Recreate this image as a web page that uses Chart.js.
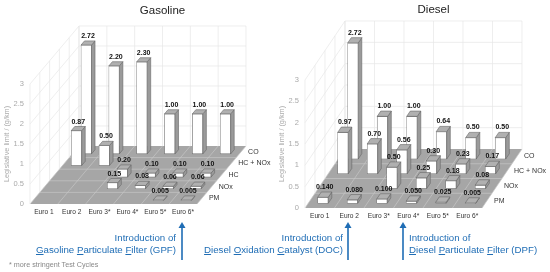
<!DOCTYPE html>
<html>
<head>
<meta charset="utf-8">
<title>Legislative limits</title>
<script src="https://cdn.jsdelivr.net/npm/chart.js@4"></script>
<style>
  body { margin: 0; background: #fff; width: 550px; height: 272px; overflow: hidden; position: relative; font-family: "Liberation Sans", Arial, sans-serif; }
  canvas { position: absolute; top: 0; }
  #gasCanvas { left: 0; }
  #dieselCanvas { left: 275px; }
  .note { position: absolute; color: #1f6db5; font-size: 9.7px; line-height: 11.7px; white-space: nowrap; }
  .arrow { position: absolute; top: 222px; width: 8px; height: 38px; }
  #foot { position: absolute; left: 9px; top: 260px; font-size: 7.2px; color: #888; }
</style>
</head>
<body>
<canvas id="gasCanvas" width="275" height="272"></canvas>
<canvas id="dieselCanvas" width="275" height="272"></canvas>

<div class="note" style="right:374px; top:232px; text-align:right">Introduction of<br><u>G</u>asoline <u>P</u>articulate <u>F</u>ilter (GPF)</div>
<div class="note" style="right:207px; top:232px; text-align:right">Introduction of<br><u>D</u>iesel <u>O</u>xidation <u>C</u>atalyst (DOC)</div>
<div class="note" style="left:409px; top:232px">Introduction of<br><u>D</u>iesel <u>P</u>articulate <u>F</u>ilter (DPF)</div>

<svg class="arrow" style="left:178px" viewBox="0 0 8 38"><path d="M4 38V5" stroke="#1f6db5" stroke-width="1.6"/><path d="M4 0L7.5 6H0.5Z" fill="#1f6db5"/></svg>
<svg class="arrow" style="left:344px" viewBox="0 0 8 38"><path d="M4 38V5" stroke="#1f6db5" stroke-width="1.6"/><path d="M4 0L7.5 6H0.5Z" fill="#1f6db5"/></svg>
<svg class="arrow" style="left:399px" viewBox="0 0 8 38"><path d="M4 38V5" stroke="#1f6db5" stroke-width="1.6"/><path d="M4 0L7.5 6H0.5Z" fill="#1f6db5"/></svg>

<div id="foot">* more stringent Test Cycles</div>

<script>
const categories = ['Euro 1', 'Euro 2', 'Euro 3*', 'Euro 4*', 'Euro 5*', 'Euro 6*'];

// rows go front to back
const gasolineRows = ['PM', 'NOx', 'HC', 'HC + NOx', 'CO'];
const gasolinePM = [null, null, null, null, 0.005, 0.005];
const gasolineNOx = [null, null, 0.15, 0.08, 0.06, 0.06];
const gasolineHC = [null, null, 0.20, 0.10, 0.10, 0.10];
const gasolineHCNOx = [0.87, 0.50, null, null, null, null];
const gasolineCO = [2.72, 2.20, 2.30, 1.00, 1.00, 1.00];

const dieselRows = ['PM', 'NOx', 'HC + NOx', 'CO'];
const dieselPM = [0.140, 0.080, 0.100, 0.050, 0.025, 0.005];
const dieselNOx = [null, null, 0.50, 0.25, 0.18, 0.08];
const dieselHCNOx = [0.97, 0.70, 0.56, 0.30, 0.23, 0.17];
const dieselCO = [2.72, 1.00, 1.00, 0.64, 0.50, 0.50];

Chart.defaults.font.family = '"Liberation Sans", Arial, sans-serif';

const BAR_DEPTH = 0.36; // share of one row

// depth shift of a position on the floor, in rows from the front edge
function shift(opts, rows) {
  return {
    x: rows / opts.rows.length * opts.wallX,
    y: rows / opts.rows.length * opts.wallY
  };
}

const fake3d = {
  id: 'fake3d',

  beforeDatasetsDraw(chart, args, opts) {
    const ctx = chart.ctx;
    const a = chart.chartArea;
    const n = categories.length;
    const catW = (a.right - a.left) / n;
    const line = (x1, y1, x2, y2, color) => {
      ctx.strokeStyle = color;
      ctx.beginPath();
      ctx.moveTo(x1, y1);
      ctx.lineTo(x2, y2);
      ctx.stroke();
    };

    ctx.save();
    ctx.lineWidth = 0.7;

    // floor
    ctx.fillStyle = '#a6a6a6';
    ctx.beginPath();
    ctx.moveTo(a.left, a.bottom);
    ctx.lineTo(a.right, a.bottom);
    ctx.lineTo(a.right + opts.wallX, a.bottom - opts.wallY);
    ctx.lineTo(a.left + opts.wallX, a.bottom - opts.wallY);
    ctx.closePath();
    ctx.fill();

    // side wall and back wall, lines at every tick
    chart.scales.y.ticks.forEach(t => {
      const y = chart.scales.y.getPixelForValue(t.value);
      if (t.value > 0) line(a.left, y, a.left + opts.wallX, y - opts.wallY, '#e6e6e6');
      if (t.value > 0) line(a.left + opts.wallX, y - opts.wallY, a.right + opts.wallX, y - opts.wallY, '#e6e6e6');
    });
    for (let i = 0; i <= n; i++) {
      const x = a.left + i * catW;
      line(x + opts.wallX, a.top - opts.wallY, x + opts.wallX, a.bottom - opts.wallY, '#e6e6e6');
      line(x, a.bottom, x + opts.wallX, a.bottom - opts.wallY, '#c6c6c6');
    }
    for (let r = 0; r <= opts.rows.length; r++) {
      const s = shift(opts, r);
      line(a.left + s.x, a.top - s.y, a.left + s.x, a.bottom - s.y, '#e6e6e6');
      if (r > 0 && r < opts.rows.length) line(a.left + s.x, a.bottom - s.y, a.right + s.x, a.bottom - s.y, '#c6c6c6');
    }

    // title centred over the back wall
    ctx.fillStyle = '#222';
    ctx.font = '11.5px "Liberation Sans"';
    ctx.textAlign = 'center';
    ctx.textBaseline = 'middle';
    ctx.fillText(opts.title, (a.left + a.right) / 2 + opts.wallX, opts.titleY);

    // row names along the right edge of the floor
    ctx.fillStyle = '#333';
    ctx.font = '7px "Liberation Sans"';
    ctx.textAlign = 'left';
    opts.rows.forEach((name, r) => {
      const s = shift(opts, r + 0.5);
      ctx.fillText(name, a.right + s.x + 7, a.bottom - s.y);
    });
    ctx.restore();
  },

  beforeDatasetDraw(chart, args, opts) {
    const s = shift(opts, args.index + (1 - BAR_DEPTH) / 2);
    chart.ctx.save();
    chart.ctx.translate(s.x, -s.y);
  },

  afterDatasetDraw(chart, args, opts) {
    const ctx = chart.ctx;
    const d = shift(opts, BAR_DEPTH);
    ctx.lineWidth = 0.6;
    ctx.strokeStyle = '#666';
    args.meta.data.forEach((bar, i) => {
      if (chart.data.datasets[args.index].data[i] === null) return;
      const r = bar.x + bar.width / 2;
      const l = bar.x - bar.width / 2;
      ctx.fillStyle = '#9a9a9a';
      ctx.beginPath();
      ctx.moveTo(r, bar.y);
      ctx.lineTo(r + d.x, bar.y - d.y);
      ctx.lineTo(r + d.x, bar.base - d.y);
      ctx.lineTo(r, bar.base);
      ctx.closePath();
      ctx.fill();
      ctx.stroke();
      ctx.fillStyle = '#b0b0b0';
      ctx.beginPath();
      ctx.moveTo(l, bar.y);
      ctx.lineTo(r, bar.y);
      ctx.lineTo(r + d.x, bar.y - d.y);
      ctx.lineTo(l + d.x, bar.y - d.y);
      ctx.closePath();
      ctx.fill();
      ctx.stroke();
    });
    ctx.restore();
  },

  // value labels go on top of every bar
  afterDatasetsDraw(chart, args, opts) {
    const ctx = chart.ctx;
    ctx.save();
    ctx.fillStyle = '#111';
    ctx.font = 'bold 7px "Liberation Sans"';
    ctx.textAlign = 'center';
    ctx.textBaseline = 'alphabetic';
    chart.data.datasets.forEach((ds, index) => {
      const s = shift(opts, index + (1 - BAR_DEPTH) / 2);
      const d = shift(opts, BAR_DEPTH);
      chart.getDatasetMeta(index).data.forEach((bar, i) => {
        if (ds.data[i] === null) return;
        ctx.fillText(ds.data[i].toFixed(ds.digits), bar.x + s.x + d.x / 2, bar.y - s.y - d.y - 3);
      });
    });
    ctx.restore();
  }
};

function makeDataset(label, data, digits) {
  return {
    label: label,
    data: data,
    digits: digits,
    grouped: false,
    clip: false,
    barThickness: 10.5,
    backgroundColor: '#fff',
    borderColor: '#666',
    borderWidth: 0.6,
    borderSkipped: false
  };
}

function makeChart(canvasId, datasets, depth, paddingRight, top, bottom) {
  return new Chart(document.getElementById(canvasId).getContext('2d'), {
    type: 'bar',
    data: { labels: categories, datasets: datasets },
    plugins: [fake3d],
    options: {
      responsive: false,
      animation: false,
      layout: { padding: { top: top, right: paddingRight, bottom: 272 - bottom - 14, left: 0 } },
      plugins: {
        legend: { display: false },
        tooltip: { enabled: false },
        fake3d: depth
      },
      scales: {
        x: {
          afterFit: s => { s.height = 14; },
          grid: { display: false, drawTicks: false },
          border: { display: false },
          ticks: { color: '#333', font: { size: 6.6 }, padding: 4, maxRotation: 0, autoSkip: false }
        },
        y: {
          min: 0,
          max: 3,
          afterFit: s => { s.width = 30; },
          grid: { display: false, drawTicks: false },
          border: { display: false },
          title: { display: true, text: 'Legislative limit / (g/km)', color: '#aaa', font: { size: 7.3 }, padding: 3 },
          ticks: { stepSize: 0.5, color: '#aaa', font: { size: 7.5 }, padding: 6, callback: v => String(v) }
        }
      }
    }
  });
}

const gasolineChart = makeChart('gasCanvas', [
  makeDataset(gasolineRows[0], gasolinePM, 3),
  makeDataset(gasolineRows[1], gasolineNOx, 2),
  makeDataset(gasolineRows[2], gasolineHC, 2),
  makeDataset(gasolineRows[3], gasolineHCNOx, 2),
  makeDataset(gasolineRows[4], gasolineCO, 2)
], { title: 'Gasoline', titleY: 11, rows: gasolineRows, wallX: 49, wallY: 58 }, 78, 84, 204);

const dieselChart = makeChart('dieselCanvas', [
  makeDataset(dieselRows[0], dieselPM, 3),
  makeDataset(dieselRows[1], dieselNOx, 2),
  makeDataset(dieselRows[2], dieselHCNOx, 2),
  makeDataset(dieselRows[3], dieselCO, 2)
], { title: 'Diesel', titleY: 10, rows: dieselRows, wallX: 40, wallY: 59 }, 68, 80, 208);
</script>
</body>
</html>
